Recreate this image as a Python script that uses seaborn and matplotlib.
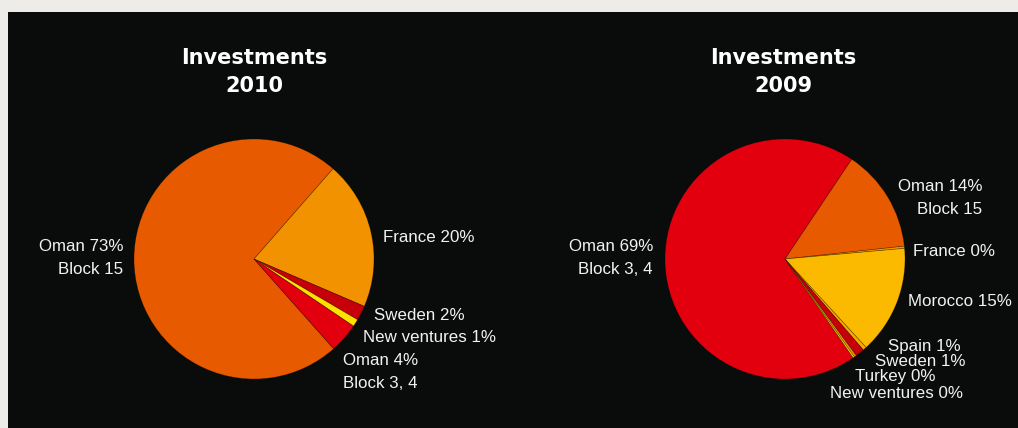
import matplotlib
matplotlib.use("Agg")
import matplotlib.pyplot as plt
import seaborn as sns
from matplotlib.patches import Rectangle

# ---- data ----
cats_2010 = ["Oman Block 15", "France", "Sweden", "New ventures", "Oman Block 3, 4"]
vals_2010 = [73, 20, 2, 1, 4]
labels_2010 = ["Oman 73%\nBlock 15", "France 20%", "Sweden 2%", "New ventures 1%", "Oman 4%\nBlock 3, 4"]

cats_2009 = ["Oman Block 3, 4", "Oman Block 15", "France", "Morocco", "Spain", "Sweden", "Turkey", "New ventures"]
vals_2009 = [69.0, 13.9, 0.3, 14.6, 0.5, 1.2, 0.3, 0.2]
labels_2009 = ["Oman 69%\nBlock 3, 4", "Oman 14%\nBlock 15", "France 0%", "Morocco 15%",
               "Spain 1%", "Sweden 1%", "Turkey 0%", "New ventures 0%"]

titles = ["Investments\n2010", "Investments\n2009"]

palette = {
    "Oman Block 15": "#E85A00",
    "France": "#F39200",
    "Sweden": "#C5000A",
    "New ventures": "#FFE100",
    "Oman Block 3, 4": "#E2000F",
    "Morocco": "#FBBA00",
    "Spain": "#F7A800",
    "Turkey": "#F39200",
}

sns.set_theme(style="dark")
plt.rcParams['font.family'] = ['Liberation Sans', 'DejaVu Sans']

W, H = 1018, 428
fig = plt.figure(figsize=(W / 100, H / 100), dpi=100, facecolor="#EDECE8")
fig.patches.append(Rectangle((8 / W, 0), 1 - 8 / W, (H - 12) / H, transform=fig.transFigure,
                             facecolor="#0A0C0B", edgecolor="none", zorder=-5))

R = 120.0  # pie radius in px


def make_ax(cx, cy):
    half = 1.25 * R
    ax = fig.add_axes([(cx - half) / W, (H - cy - half) / H, 2 * half / W, 2 * half / H])
    ax.set_xlim(-1.25, 1.25)
    ax.set_ylim(-1.25, 1.25)
    ax.set_aspect("equal")
    ax.axis("off")
    ax.patch.set_alpha(0)
    ax.set_zorder(2)
    return ax


def px(ax_c, x, y):
    cx, cy = ax_c
    return (x - cx) / R, (cy - y) / R


centers = [(254, 259), (785, 259)]

# label placement (pixel anchor, alignment)
pos_2010 = [((123, 258), "right"), ((383, 237), "left"), ((374, 315), "left"),
            ((363, 337), "left"), ((343, 372), "left")]
pos_2009 = [((653, 258), "right"), ((982, 198), "right"), ((913, 251), "left"),
            ((908, 301), "left"), ((888, 346), "left"), ((875, 361), "left"),
            ((855, 377), "left"), ((830, 393), "left")]

# start angles (deg) so that slices sit as in the reference
starts = [-48.4, 56.2 + vals_2009[0] * 3.6]

pies = [(cats_2010, vals_2010, labels_2010, pos_2010),
        (cats_2009, vals_2009, labels_2009, pos_2009)]

title_x = [254, 783]

for i, (cats, vals, labs, pos) in enumerate(pies):
    ax = make_ax(*centers[i])
    ax.pie(vals, colors=[palette[c] for c in cats], startangle=starts[i],
           counterclock=False, radius=1.0,
           wedgeprops=dict(linewidth=0.5, edgecolor=(0, 0, 0, 0.3)))
    for lab, ((x, y), ha) in zip(labs, pos):
        tx, ty = px(centers[i], x, y)
        ax.text(tx, ty, lab, ha=ha, va="center", color="#F2F2F2", fontsize=12.2,
                linespacing=1.6, clip_on=False)
    fig.text(title_x[i] / W, (H - 72) / H, titles[i],
             ha="center", va="center", color="white", fontsize=15, fontweight="heavy",
             family=["DejaVu Sans"], linespacing=1.55, zorder=3)

fig.savefig("out.png", dpi=100, facecolor=fig.get_facecolor())
